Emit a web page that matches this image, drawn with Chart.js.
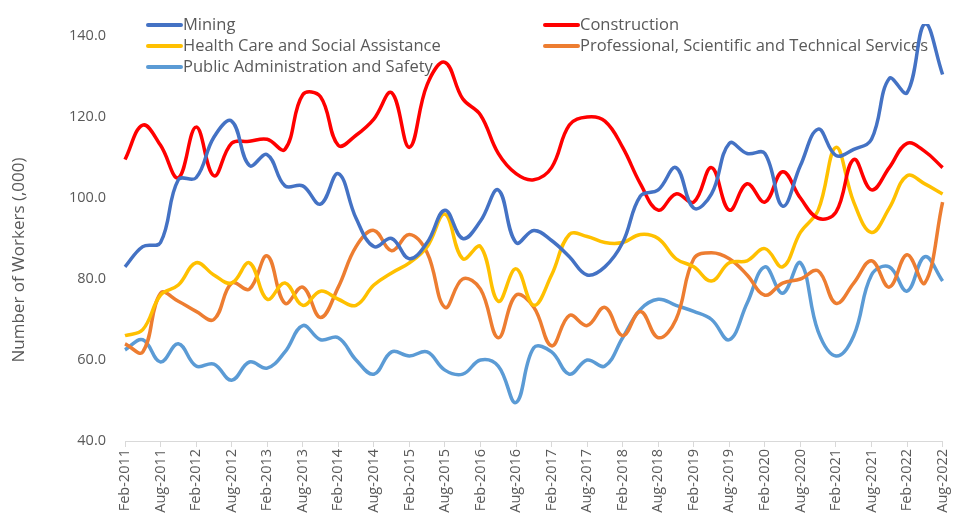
<!DOCTYPE html>
<html>
<head>
<meta charset="utf-8">
<script src="https://cdn.jsdelivr.net/npm/chart.js@4/dist/chart.umd.min.js"></script>
<style>
  html, body { margin: 0; padding: 0; background: #fff; }
  #wrap { width: 962px; height: 528px; position: relative; }
</style>
</head>
<body>
<div id="wrap"><canvas id="chart" width="962" height="528"></canvas></div>
<script>
// quarterly categories, Feb-2011 .. Aug-2022
const categories = [
  'Feb-2011', 'May-2011', 'Aug-2011', 'Nov-2011',
  'Feb-2012', 'May-2012', 'Aug-2012', 'Nov-2012',
  'Feb-2013', 'May-2013', 'Aug-2013', 'Nov-2013',
  'Feb-2014', 'May-2014', 'Aug-2014', 'Nov-2014',
  'Feb-2015', 'May-2015', 'Aug-2015', 'Nov-2015',
  'Feb-2016', 'May-2016', 'Aug-2016', 'Nov-2016',
  'Feb-2017', 'May-2017', 'Aug-2017', 'Nov-2017',
  'Feb-2018', 'May-2018', 'Aug-2018', 'Nov-2018',
  'Feb-2019', 'May-2019', 'Aug-2019', 'Nov-2019',
  'Feb-2020', 'May-2020', 'Aug-2020', 'Nov-2020',
  'Feb-2021', 'May-2021', 'Aug-2021', 'Nov-2021',
  'Feb-2022', 'May-2022', 'Aug-2022'
];

const mining = [83, 88, 89, 104.5, 105, 115, 119, 108, 110.7, 103, 103, 98.5,
  106, 95, 88, 90, 85, 89, 97, 90, 94.3, 102, 89, 92,
  89.5, 85.5, 81, 83, 89, 100.5, 102, 107.5, 97.5, 101, 113.5, 111,
  111, 98, 108, 117, 110.5, 112, 114.5, 129.5, 126, 143, 130.5];

const construction = [109.5, 118, 113, 105, 117.5, 105.5, 113.5, 114, 114.5, 112, 125.5, 125,
  113, 115.5, 119.5, 126, 112.5, 128, 133.5, 124.5, 120.5, 111, 106, 104.5,
  107.5, 118, 120, 119, 112.5, 103.5, 97, 101, 99, 107.5, 97, 103.5,
  99, 106.5, 100, 95, 96.5, 109.5, 102, 107.5, 113.5, 111.5, 107.5];

const healthCare = [66, 67.5, 76, 78.5, 84, 81, 79, 84, 75, 79, 73.5, 77,
  75, 73.5, 78.5, 81.5, 84, 88, 96, 85, 88, 74.5, 82.5, 73.5,
  81, 91, 90.5, 89, 89, 91, 90, 85, 83, 79.5, 84, 84.5,
  87.5, 83, 91.5, 97, 112.5, 99, 91.5, 97.5, 105.5, 103.5, 101];

const professional = [64, 62, 76.5, 74.5, 72, 70, 79, 77.5, 85.7, 74, 78, 70.5,
  78, 88, 92, 87, 91, 86.5, 73, 80, 77.5, 65.5, 76, 73,
  63.5, 71, 68.5, 73, 66, 72, 65.5, 70, 85, 86.5, 85, 81,
  76, 79, 80, 82, 74, 79, 84.5, 78, 86, 79, 99];

const publicAdmin = [62.5, 65, 59.5, 64, 58.5, 59, 55, 59.5, 58, 62, 68.5, 65,
  65.5, 60, 56.5, 62, 61, 62, 57.5, 56.5, 60, 58.5, 49.5, 63,
  62, 56.5, 60, 58.5, 65.5, 72.5, 75, 73.5, 72, 70, 65, 74,
  83, 76.5, 84, 67, 61, 66, 81, 83, 77, 85.5, 79.5];

const yTicks = [40, 60, 80, 100, 120, 140];
const yTitle = 'Number of Workers (,000)';

const textColor = '#595959';
const fontFamily = '"Open Sans", "Noto Sans", sans-serif';

function series(label, data, color) {
  return {
    label: label,
    data: data,
    borderColor: color,
    backgroundColor: color,
    borderWidth: 3.5,
    pointRadius: 0,
    tension: 0.4,
    fill: false,
    clip: 12
  };
}

// legend in two columns inside the plot + the y title, drawn like the original
const legendPlugin = {
  id: 'twoColLegend',
  beforeDatasetsDraw(chart) {
    const c = chart.ctx;
    const cols = [148, 545];
    const rows = [25, 46, 67];
    c.save();
    c.font = '16.5px ' + fontFamily;
    c.textBaseline = 'middle';
    chart.data.datasets.forEach((ds, i) => {
      const x = cols[i % 2];
      const y = rows[Math.floor(i / 2)];
      c.strokeStyle = ds.borderColor;
      c.lineWidth = 4;
      c.lineCap = 'round';
      c.beginPath();
      c.moveTo(x, y);
      c.lineTo(x + 33, y);
      c.stroke();
      c.fillStyle = textColor;
      c.fillText(ds.label, x + 35, y);
    });

    // rotated axis title
    c.translate(19, 260);
    c.rotate(-Math.PI / 2);
    c.textAlign = 'center';
    c.font = '17px ' + fontFamily;
    c.fillText(yTitle, 0, 0);
    c.restore();
  }
};

const ctx = document.getElementById('chart').getContext('2d');
const chart = new Chart(ctx, {
  type: 'line',
  data: {
    labels: categories,
    datasets: [
      series('Mining', mining, '#4472C4'),
      series('Construction', construction, '#FF0000'),
      series('Health Care and Social Assistance', healthCare, '#FFC000'),
      series('Professional, Scientific and Technical Services', professional, '#ED7D31'),
      series('Public Administration and Safety', publicAdmin, '#5B9BD5')
    ]
  },
  options: {
    responsive: false,
    animation: false,
    layout: { padding: { top: 36, right: 15, bottom: 0, left: 0 } },
    plugins: {
      legend: { display: false },
      tooltip: { enabled: false }
    },
    scales: {
      x: {
        offset: false,
        afterFit(scale) { scale.height = 87; },
        border: { display: true, color: '#D9D9D9', width: 1 },
        grid: {
          drawOnChartArea: false,
          drawTicks: true,
          tickLength: 6,
          color: '#D9D9D9'
        },
        ticks: {
          autoSkip: false,
          maxRotation: 90,
          minRotation: 90,
          padding: 2,
          color: textColor,
          font: { family: fontFamily, size: 14.5 },
          callback(value, index) {
            return index % 2 === 0 ? categories[index] : null;
          }
        }
      },
      y: {
        min: 40,
        max: 140,
        afterFit(scale) { scale.width = 125; },
        afterBuildTicks(scale) {
          scale.ticks = yTicks.map(v => ({ value: v }));
        },
        border: { display: false },
        grid: { display: false },
        ticks: {
          padding: 11,
          color: textColor,
          font: { family: fontFamily, size: 14.5 },
          callback(value) { return Number(value).toFixed(1); }
        }
      }
    }
  },
  plugins: [legendPlugin]
});
</script>
</body>
</html>
